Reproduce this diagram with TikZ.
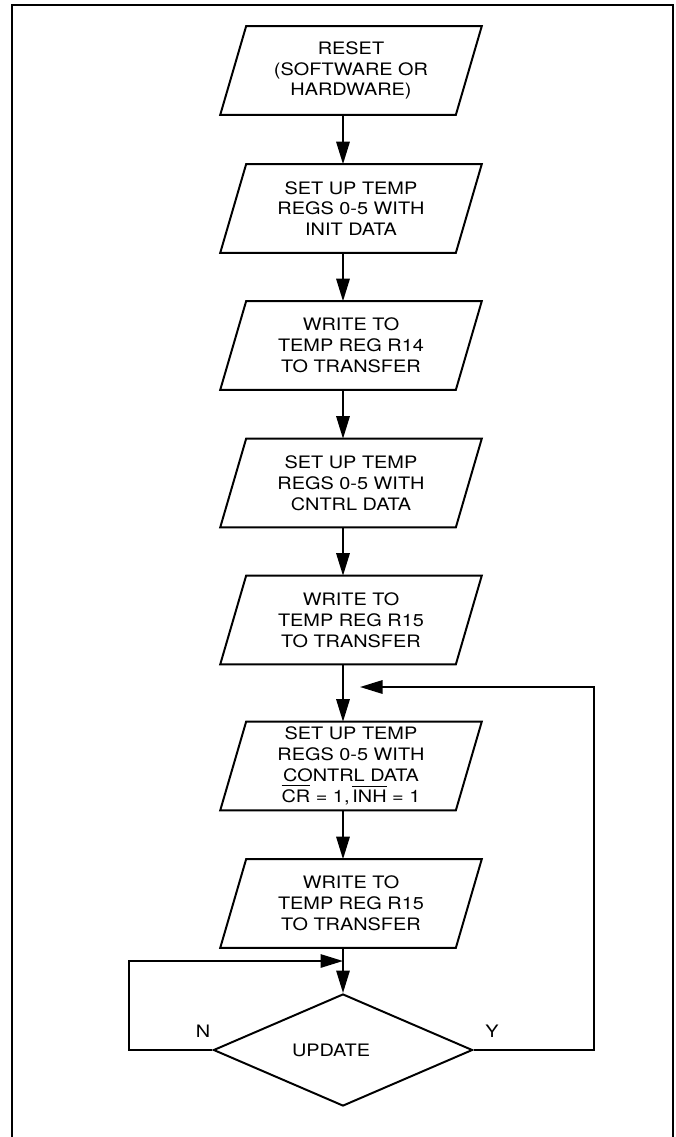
\documentclass[tikz,border=0pt]{standalone}
\usepackage{fontspec}
\setmainfont{TeX Gyre Heros}[FakeStretch=1.16]
\usetikzlibrary{shapes.geometric,arrows.meta}

\newcommand{\barsig}[1]{\setbox0\hbox{#1}\rlap{\rule[\dimexpr\ht0+2.2pt\relax]{\wd0}{0.7pt}}\copy0\relax}

\begin{document}
\begin{tikzpicture}[x=0.025cm, y=-0.025cm,
	font=\fontsize{12.2}{14.8}\selectfont,
	iobox/.style={shape=rectangle, minimum width=5.875cm, minimum height=2.2cm,
		inner sep=0pt, align=center},
	outline/.style={line width=1.4pt, line join=miter},
	flow/.style={line width=1.4pt, -{Triangle[length=16pt, width=9.5pt]}}]
	
	\useasboundingbox (0,0) rectangle (676,1137);
	
	% frame, open at the bottom
	\draw[line width=1.5pt] (12,1137) -- (12,5) -- (673,5) -- (673,1137);
	
	\node[iobox] (reset) at (351, 70.5) {RESET\\(SOFTWARE OR\\HARDWARE)};
	\node[iobox] (init) at (351, 208.5) {SET UP TEMP\\REGS 0-5 WITH\\INIT DATA};
	\node[iobox] (wr14) at (351, 345.5) {WRITE TO\\TEMP REG R14\\TO TRANSFER};
	\node[iobox] (cntrl) at (351, 483) {SET UP TEMP\\REGS 0-5 WITH\\CNTRL DATA};
	\node[iobox] (wr15a) at (351, 620) {WRITE TO\\TEMP REG R15\\TO TRANSFER};
	\node[iobox] (contrl) at (351, 766) {SET UP TEMP\\REGS 0-5 WITH\\CONTRL DATA\\\barsig{CR} = 1,\thinspace\barsig{INH} = 1};
	\node[iobox] (wr15b) at (351, 903.5) {WRITE TO\\TEMP REG R15\\TO TRANSFER};
	
	% slanted outlines round the boxes
	\foreach \n in {reset,init,wr14,cntrl,wr15a,contrl,wr15b}
		\draw[outline] ([xshift=9.2pt]\n.north west) -- ([xshift=9.2pt]\n.north east)
			-- ([xshift=-9.2pt]\n.south east) -- ([xshift=-9.2pt]\n.south west) -- cycle;
	
	\node[shape=diamond, draw, line width=1.4pt, inner sep=0pt, aspect=2.3,
		minimum width=6.475cm, minimum height=2.8cm] (update) at (343, 1050) {UPDATE\kern17pt};
	
	\node (nlab) at (203, 1031) {N};
	\node (ylab) at (492, 1031) {Y};
	
	\coordinate (spine) at (343, 0);
	\coordinate (nin) at (343, 961);
	\coordinate (yin) at (360, 687);
	
	\draw[flow] (reset.south -| spine) -- (init.north -| spine);
	\draw[flow] (init.south -| spine) -- (wr14.north -| spine);
	\draw[flow] (wr14.south -| spine) -- (cntrl.north -| spine);
	\draw[flow] (cntrl.south -| spine) -- (wr15a.north -| spine);
	\draw[flow] (wr15a.south -| spine) -- (contrl.north -| spine);
	\draw[flow] (contrl.south -| spine) -- (wr15b.north -| spine);
	\draw[flow] (wr15b.south -| spine) -- (update.north);
	
	% loops back from the decision
	\draw[flow] (update.west) -- ++(-83,0) |- (nin);
	\draw[flow] (update.east) -- ++(120,0) |- (yin);
	
\end{tikzpicture}
\end{document}
